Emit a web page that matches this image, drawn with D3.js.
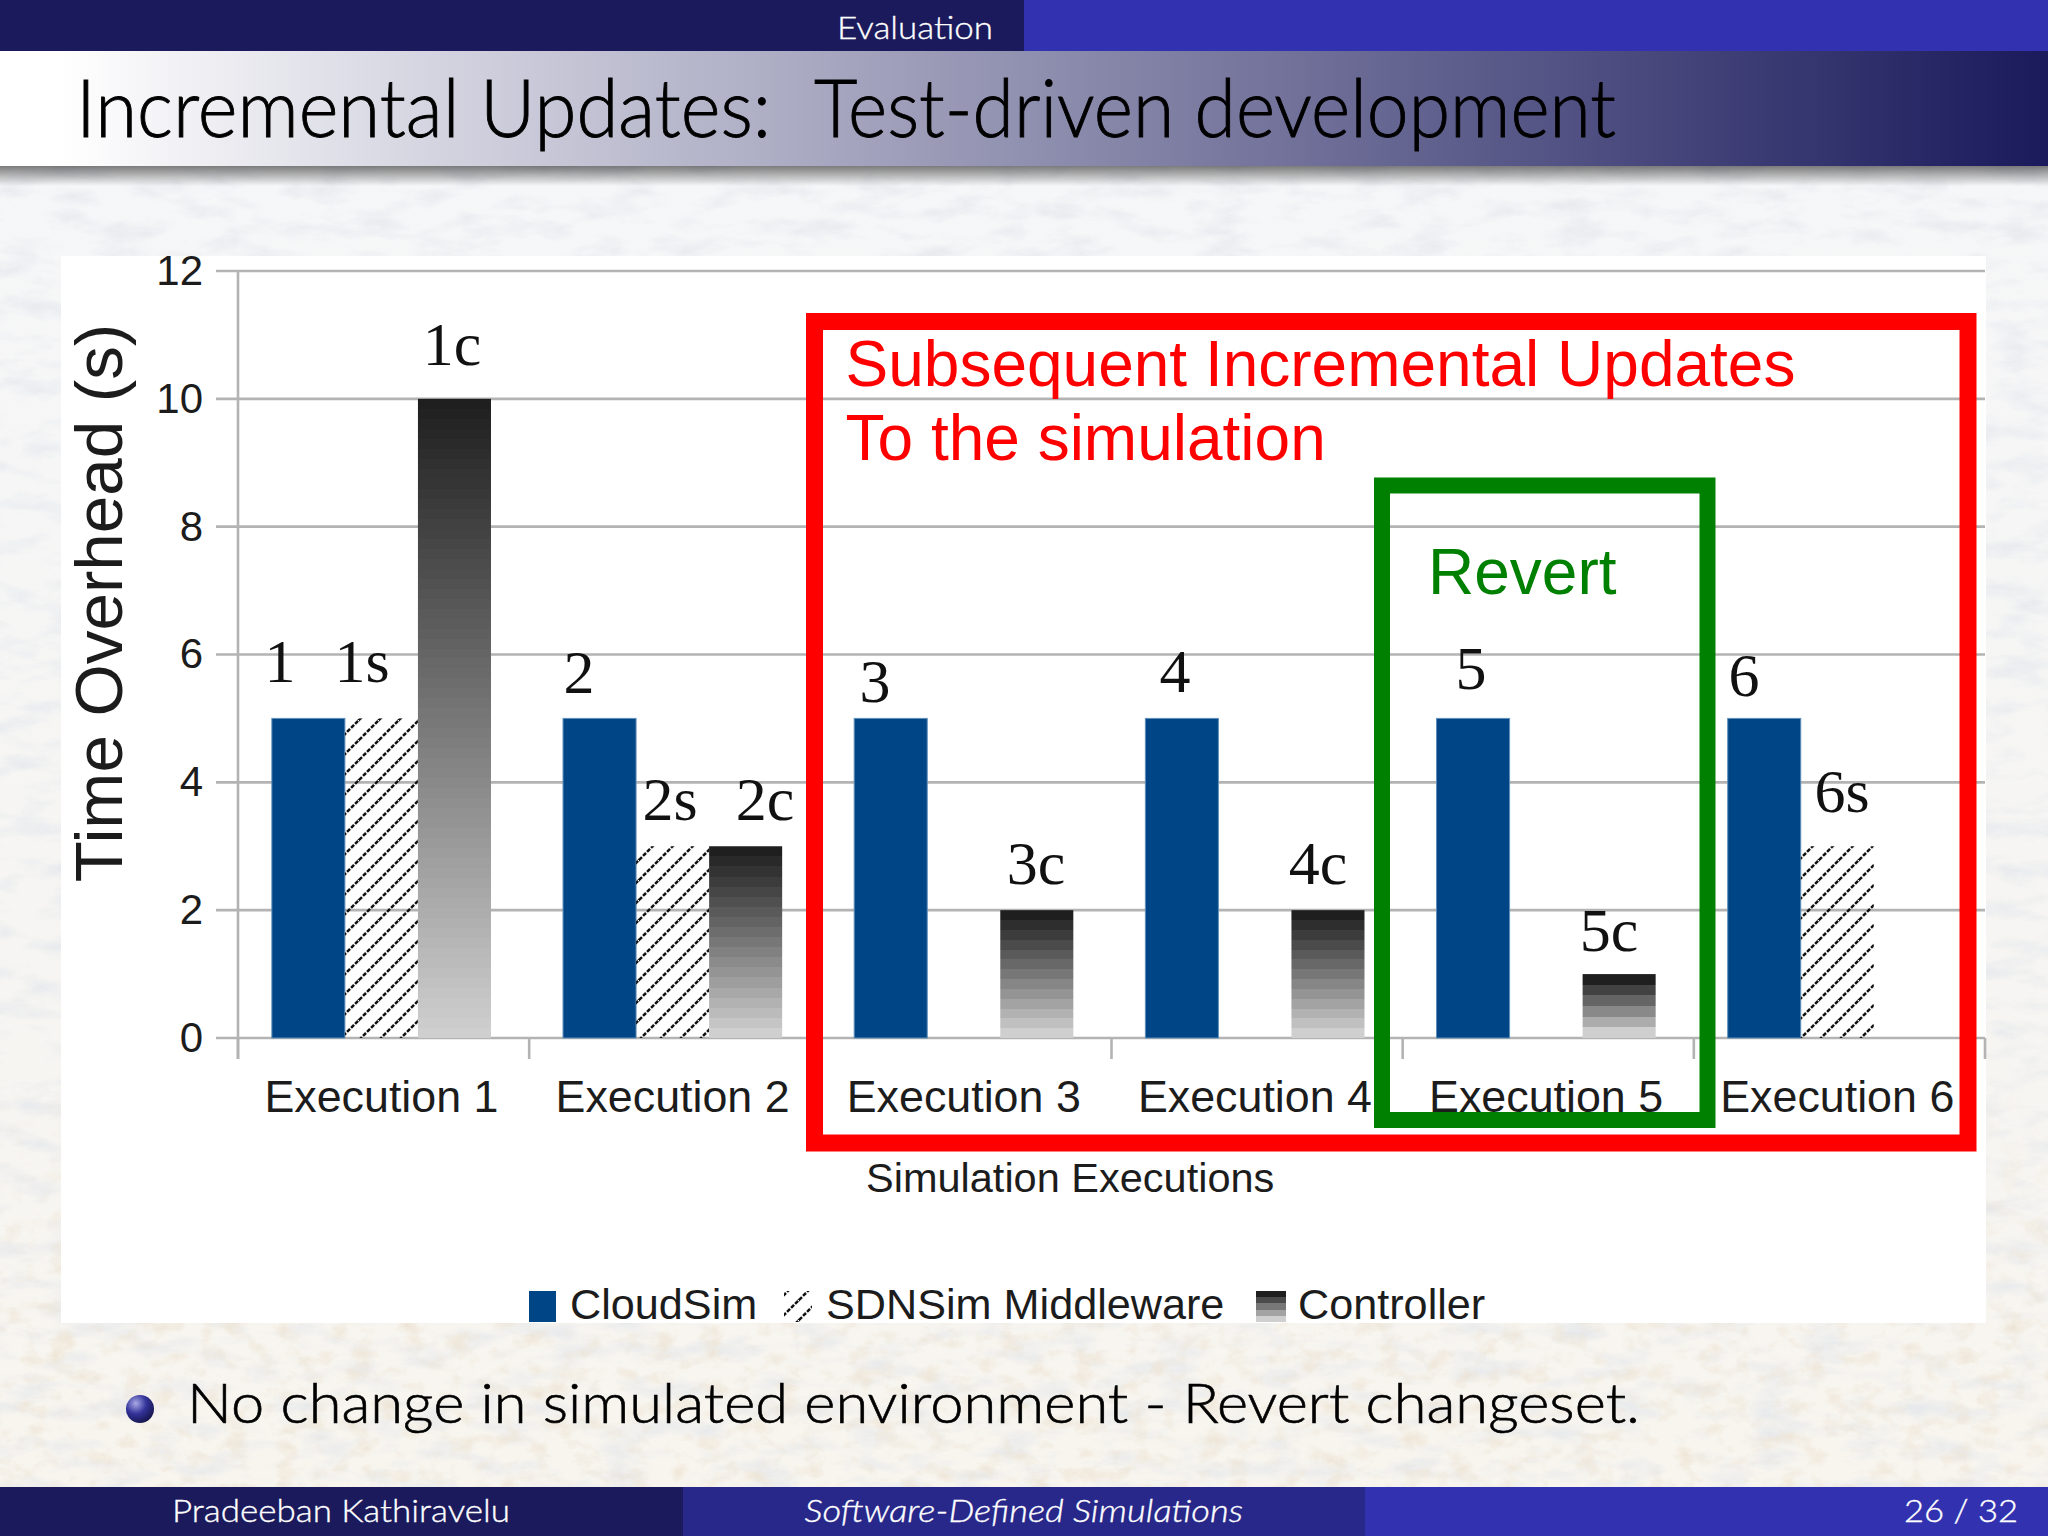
<!DOCTYPE html>
<html>
<head>
<meta charset="utf-8">
<script src="https://cdn.jsdelivr.net/npm/d3@7"></script>
<style>
  html, body { margin: 0; padding: 0; background: #fff; }
  svg { display: block; }
  .serif { font-family: "Liberation Serif", serif; }
  .sans { font-family: "Liberation Sans", sans-serif; }
  .slide { font-family: "Lato", sans-serif; }
</style>
</head>
<body>
<svg id="chart" width="2048" height="1536"></svg>
<script>
// chart values
const categories = ['Execution 1', 'Execution 2', 'Execution 3', 'Execution 4', 'Execution 5', 'Execution 6']
const seriesNames = ['CloudSim', 'SDNSim Middleware', 'Controller']
const cloudSim = [5, 5, 5, 5, 5, 5]
const sdnSim = [5, 3, null, null, null, 3]
const controller = [10, 3, 2, 2, 1, null]
const yTicks = [0, 2, 4, 6, 8, 10, 12]
const barNotes = ['1', '1s', '1c', '2', '2s', '2c', '3', '3c', '4', '4c', '5', '5c', '6', '6s']

const svg = d3.select('#chart')
const defs = svg.append('defs')

// ---- slide background ----
function noiseFilter(id, freq, seed, rgb, gain, cut) {
  const f = defs.append('filter').attr('id', id)
    .attr('x', 0).attr('y', 0).attr('width', '100%').attr('height', '100%')
  f.append('feTurbulence').attr('type', 'fractalNoise')
    .attr('baseFrequency', freq).attr('numOctaves', 5).attr('seed', seed)
  f.append('feColorMatrix').attr('type', 'matrix')
    .attr('values', `0 0 0 0 ${rgb[0]}  0 0 0 0 ${rgb[1]}  0 0 0 0 ${rgb[2]}  ${gain} 0 0 0 ${cut}`)
}
noiseFilter('marble', '0.02 0.05', 11, [0.74, 0.77, 0.82], 1.5, -0.68)
noiseFilter('specks', '0.04 0.06', 4, [0.84, 0.76, 0.64], 2.0, -1.0)

const bgTint = defs.append('linearGradient').attr('id', 'bgTint')
  .attr('x1', 0).attr('x2', 0).attr('y1', 0).attr('y2', 1)
bgTint.append('stop').attr('offset', 0).attr('stop-color', '#f6f7f9')
bgTint.append('stop').attr('offset', 0.6).attr('stop-color', '#f6f5f3')
bgTint.append('stop').attr('offset', 1).attr('stop-color', '#f8f5ee')

const lowFade = defs.append('linearGradient').attr('id', 'lowFade')
  .attr('x1', 0).attr('x2', 0).attr('y1', 0).attr('y2', 1)
lowFade.append('stop').attr('offset', 0.7).attr('stop-color', '#000')
lowFade.append('stop').attr('offset', 0.85).attr('stop-color', '#fff')
defs.append('mask').attr('id', 'lowMask')
  .attr('maskUnits', 'userSpaceOnUse').attr('x', 0).attr('y', 0).attr('width', 2048).attr('height', 1536)
  .append('rect').attr('width', 2048).attr('height', 1536).attr('fill', 'url(#lowFade)')

svg.append('rect').attr('width', 2048).attr('height', 1536).attr('fill', 'url(#bgTint)')
svg.append('rect').attr('width', 2048).attr('height', 1536).attr('filter', 'url(#marble)')
svg.append('g').attr('mask', 'url(#lowMask)')
  .append('rect').attr('width', 2048).attr('height', 1536).attr('filter', 'url(#specks)')

// ---- header and footer ----
const headFill = defs.append('linearGradient').attr('id', 'headFill')
headFill.append('stop').attr('offset', 0.03).attr('stop-color', '#ffffff')
headFill.append('stop').attr('offset', 1).attr('stop-color', '#1a1a5c')
const headShade = defs.append('linearGradient').attr('id', 'headShade')
  .attr('x1', 0).attr('x2', 0).attr('y1', 0).attr('y2', 1)
headShade.append('stop').attr('offset', 0).attr('stop-color', '#000').attr('stop-opacity', 0.5)
headShade.append('stop').attr('offset', 1).attr('stop-color', '#000').attr('stop-opacity', 0)

svg.append('rect').attr('y', 166).attr('width', 2048).attr('height', 20).attr('fill', 'url(#headShade)')
svg.append('rect').attr('width', 1024).attr('height', 51).attr('fill', '#1a1a5c')
svg.append('rect').attr('x', 1024).attr('width', 1024).attr('height', 51).attr('fill', '#3232b0')
svg.append('rect').attr('y', 51).attr('width', 2048).attr('height', 115).attr('fill', 'url(#headFill)')

svg.append('rect').attr('y', 1487).attr('width', 683).attr('height', 49).attr('fill', '#1a1a5c')
svg.append('rect').attr('x', 683).attr('y', 1487).attr('width', 682).attr('height', 49).attr('fill', '#28288a')
svg.append('rect').attr('x', 1365).attr('y', 1487).attr('width', 683).attr('height', 49).attr('fill', '#3232b0')

// Lato Light is a bit too thin on its own, the thin stroke brings it up to the slide's weight
function slideText(str, x, y, size, len, fill, italic) {
  return svg.append('text').attr('class', 'slide')
    .attr('x', x).attr('y', y)
    .attr('font-size', size).attr('fill', fill)
    .attr('font-weight', 300)
    .attr('font-style', italic ? 'italic' : 'normal')
    .attr('stroke', fill).attr('stroke-width', size / 90)
    .attr('textLength', len).attr('lengthAdjust', 'spacingAndGlyphs')
    .text(str)
}
slideText('Evaluation', 837, 39, 31, 156, '#fff')
slideText('Incremental Updates:', 76, 137, 80, 695, '#000')
slideText('Test-driven development', 814, 137, 80, 802, '#000')
slideText('No change in simulated environment - Revert changeset.', 187, 1423, 56, 1453, '#000')
slideText('Pradeeban Kathiravelu', 172, 1522, 31, 338, '#fff')
slideText('Software-Defined Simulations', 804.5, 1522, 31, 438.5, '#fff', true)
slideText('26 / 32', 1904, 1522, 31, 114, '#fff')

const ball = defs.append('radialGradient').attr('id', 'ball').attr('cx', 0.35).attr('cy', 0.3).attr('r', 0.75)
ball.append('stop').attr('offset', 0).attr('stop-color', '#a9a9e6')
ball.append('stop').attr('offset', 0.5).attr('stop-color', '#33339a')
ball.append('stop').attr('offset', 1).attr('stop-color', '#14144a')
svg.append('circle').attr('cx', 140).attr('cy', 1409).attr('r', 14).attr('fill', 'url(#ball)')

// ---- chart panel ----
svg.append('rect').attr('x', 61).attr('y', 256).attr('width', 1925).attr('height', 1067).attr('fill', '#fff')

const margin = { top: 271, right: 63, bottom: 498, left: 238 }
const width = 2048
const height = 1536

const y = d3.scaleLinear().domain([0, 12]).range([height - margin.bottom, margin.top])
const x0 = d3.scaleBand().domain(categories)
  .range([margin.left, width - margin.right])
  .paddingInner(0.2474).paddingOuter(0.1237).align(0.47)
const x1 = d3.scaleBand().domain(seriesNames).range([0, x0.bandwidth()])

// hatch, only the lines so the grid shows through
const hatch = defs.append('pattern').attr('id', 'hatch').attr('patternUnits', 'userSpaceOnUse')
  .attr('width', 20).attr('height', 20).attr('patternTransform', 'translate(-1,0)')
hatch.append('path').attr('d', 'M-5,5L5,-5M0,20L20,0M15,25L25,15')
  .attr('stroke', '#111').attr('stroke-width', 2.5).attr('stroke-dasharray', '4.2 1.5').attr('fill', 'none')

// controller bars fade in steps, the shorter the bar the fewer the steps
function stepFade(id, bands) {
  const g = defs.append('linearGradient').attr('id', id)
    .attr('x1', 0).attr('x2', 0).attr('y1', 0).attr('y2', 1)
  const shade = d3.interpolateRgb('#1f1f1f', '#cfcfcf')
  d3.range(bands).forEach(i => {
    const c = shade(bands > 1 ? i / (bands - 1) : 0)
    g.append('stop').attr('offset', i / bands).attr('stop-color', c)
    g.append('stop').attr('offset', (i + 1) / bands).attr('stop-color', c)
  })
}

// grid first, bars cover it
const grid = svg.append('g')
grid.selectAll('line').data(yTicks).join('line')
  .attr('x1', margin.left - 22).attr('x2', width - margin.right)
  .attr('y1', d => y(d)).attr('y2', d => y(d))
  .attr('stroke', '#b3b3b3').attr('stroke-width', 2.6)

const barsLayer = svg.append('g')

barsLayer.selectAll('rect.cloud').data(cloudSim).join('rect').attr('class', 'cloud')
  .attr('x', (d, i) => x0(categories[i]) + x1('CloudSim'))
  .attr('y', d => y(d)).attr('width', x1.bandwidth())
  .attr('height', d => y(0) - y(d))
  .attr('fill', '#004586').attr('stroke', '#5f8fb8').attr('stroke-width', 1)

sdnSim.forEach((d, i) => {
  if (d === null) return
  barsLayer.append('rect')
    .attr('x', x0(categories[i]) + x1('SDNSim Middleware'))
    .attr('y', y(d)).attr('width', x1.bandwidth())
    .attr('height', y(0) - y(d))
    .attr('fill', 'url(#hatch)')
})

controller.forEach((d, i) => {
  if (d === null) return
  const h = y(0) - y(d)
  const id = 'fade' + i
  stepFade(id, Math.round(h / 10))
  barsLayer.append('rect')
    .attr('x', x0(categories[i]) + x1('Controller'))
    .attr('y', y(d)).attr('width', x1.bandwidth())
    .attr('height', h).attr('fill', `url(#${id})`)
})

// axes
const yAxis = d3.axisLeft(y).tickValues(yTicks).tickSize(0).tickPadding(35)
const gy = svg.append('g').attr('transform', `translate(${margin.left},0)`).call(yAxis)
gy.select('.domain').attr('d', `M0,${y(12)}V${y(0) + 21}`).attr('stroke', '#b3b3b3').attr('stroke-width', 2.6)
gy.selectAll('text').attr('class', 'sans').attr('font-size', 42).attr('fill', '#1c1c1c')

const xAxis = d3.axisBottom(x0).tickSize(0).tickPadding(42)
const gx = svg.append('g').attr('transform', `translate(0,${y(0)})`).call(xAxis)
gx.select('.domain').remove()
gx.selectAll('text').attr('class', 'sans').attr('font-size', 44.8).attr('fill', '#1c1c1c')

// x ticks sit on the band edges, so axisBottom's centred ones are not used
const edges = d3.range(categories.length + 1).map(i => margin.left + i * x0.step())
svg.append('g').selectAll('line').data(edges).join('line')
  .attr('x1', d => d).attr('x2', d => d)
  .attr('y1', y(0)).attr('y2', y(0) + 21)
  .attr('stroke', '#b3b3b3').attr('stroke-width', 2.6)

svg.append('text').attr('class', 'sans')
  .attr('text-anchor', 'middle')
  .attr('transform', 'translate(122,603) rotate(-90)')
  .attr('font-size', 67.3).attr('fill', '#1c1c1c')
  .text('Time Overhead (s)')

svg.append('text').attr('class', 'sans')
  .attr('x', 866).attr('y', 1192)
  .attr('font-size', 41.5).attr('fill', '#1c1c1c')
  .text('Simulation Executions')

// legend
const legendSwatch = ['#004586', 'url(#hatch)', 'url(#fadeKey)']
const legendBoxX = [529, 784, 1256]
const legendBoxW = [27, 28, 30]
const legendTextX = [570, 826, 1298]
stepFade('fadeKey', 5)

const legend = svg.append('g').selectAll('g').data(seriesNames).join('g')
legend.append('rect')
  .attr('x', (d, i) => legendBoxX[i]).attr('y', 1291)
  .attr('width', (d, i) => legendBoxW[i]).attr('height', 31)
  .attr('fill', (d, i) => legendSwatch[i])
legend.append('text').attr('class', 'sans')
  .attr('x', (d, i) => legendTextX[i]).attr('y', 1319)
  .attr('font-size', 43.2).attr('fill', '#1c1c1c')
  .text(d => d)

// hand placed labels over the bars, same order as barNotes
const noteX = [280, 362, 452, 579, 670, 765, 875, 1036, 1175, 1318, 1471, 1609, 1744, 1842]
const noteY = [682, 682, 365, 693, 820, 820, 702, 884, 692, 884, 689, 951, 696, 812]
svg.append('g').selectAll('text').data(barNotes).join('text').attr('class', 'serif')
  .attr('x', (d, i) => noteX[i]).attr('y', (d, i) => noteY[i])
  .attr('text-anchor', 'middle').attr('font-size', 62).attr('fill', '#111')
  .text(d => d)

// the annotation boxes go over everything
svg.append('rect').attr('x', 814.5).attr('y', 321.5).attr('width', 1153.5).attr('height', 821.5)
  .attr('fill', 'none').attr('stroke', '#ff0000').attr('stroke-width', 17)
svg.append('rect').attr('x', 1382).attr('y', 485.5).attr('width', 325.5).attr('height', 634.5)
  .attr('fill', 'none').attr('stroke', '#008000').attr('stroke-width', 16)

svg.append('text').attr('class', 'sans').attr('x', 845.5).attr('y', 386)
  .attr('font-size', 64).attr('fill', '#ff0000').text('Subsequent Incremental Updates')
svg.append('text').attr('class', 'sans').attr('x', 845.5).attr('y', 460)
  .attr('font-size', 64).attr('fill', '#ff0000').text('To the simulation')
svg.append('text').attr('class', 'sans').attr('x', 1428).attr('y', 594)
  .attr('font-size', 64).attr('fill', '#008000').text('Revert')
</script>
</body>
</html>
